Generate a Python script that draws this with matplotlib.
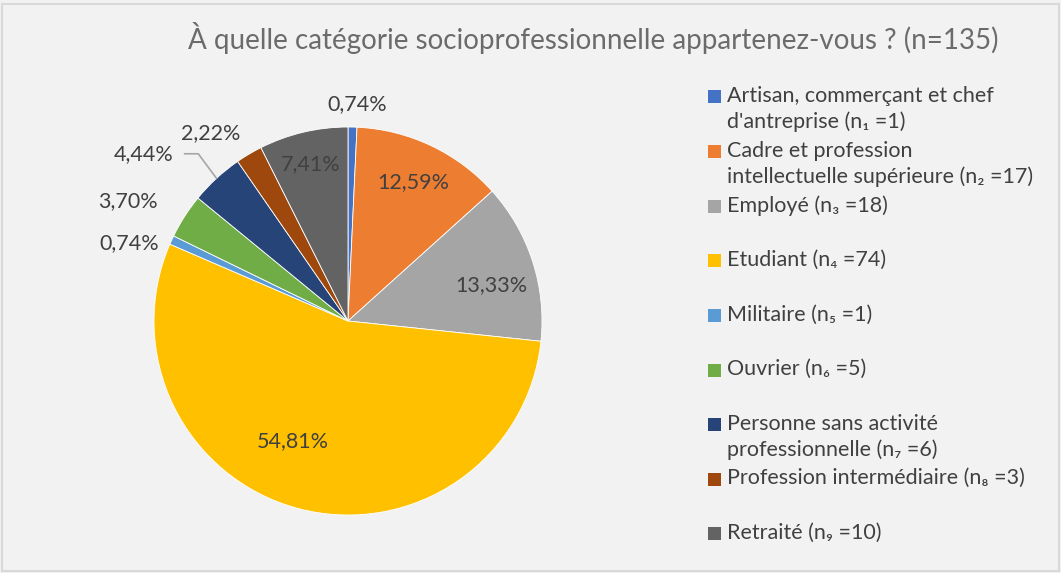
import numpy as np
import matplotlib.pyplot as plt
from matplotlib.patches import Rectangle

# data
categories = ["Artisan, commerçant et chef\nd'antreprise (n\u2081 =1)",
              "Cadre et profession\nintellectuelle supérieure (n\u2082 =17)",
              "Employé (n\u2083 =18)",
              "Etudiant (n\u2084 =74)",
              "Militaire (n\u2085 =1)",
              "Ouvrier (n\u2086 =5)",
              "Personne sans activité\nprofessionnelle (n\u2087 =6)",
              "Profession intermédiaire (n\u2088 =3)",
              "Retraité (n\u2089 =10)"]
counts = [1, 17, 18, 74, 1, 5, 6, 3, 10]
total = 135
title = "À quelle catégorie socioprofessionnelle appartenez-vous ? (n=135)"

colors = ['#4472C4', '#ED7D31', '#A5A5A5', '#FFC000', '#5B9BD5',
          '#70AD47', '#264478', '#9E480E', '#636363']

# label placement (radius factor, angle tweak in degrees)
label_r = [1.12, 0.79, 0.76, 0.68, 1.20, 1.29, 1.36, 1.20, 0.83]
label_dang = [-1, 0, -4, -10, 5, 4, 8, 5.5, 0]

W, H = 1061, 573
fig = plt.figure(figsize=(W / 100, H / 100), dpi=100)
fig.patch.set_facecolor('#F2F2F2')
fig.patches.append(Rectangle((2 / W, 2 / H), 1 - 4 / W, 1 - 6 / H, transform=fig.transFigure,
                             fill=False, edgecolor='#D9D9D9', lw=1.5))

font = 'Lato'
txtcol = '#404040'

# pie axes: center (348, 321) px, radius 194 px
cx, cy, R = 348, H - 321, 194
ax = fig.add_axes([(cx - R) / W, (cy - R) / H, 2 * R / W, 2 * R / H])

wedges, _ = ax.pie(counts, colors=colors, startangle=90, counterclock=False,
                   radius=1, wedgeprops=dict(edgecolor='white', linewidth=0.6))
ax.set_xlim(-1, 1)
ax.set_ylim(-1, 1)
ax.set_aspect('equal')
ax.axis('off')

vals = np.array(counts, dtype=float)
cum = np.cumsum(vals) - vals / 2
for i, v in enumerate(counts):
    mid = 90 - cum[i] / total * 360
    ang = np.deg2rad(mid + label_dang[i])
    x, y = label_r[i] * np.cos(ang), label_r[i] * np.sin(ang)
    pct = f"{v / total * 100:.2f}%".replace('.', ',')
    ax.text(x, y, pct, ha='center', va='center', fontsize=15.5, color=txtcol,
            family=font, clip_on=False)
    if i == 6:
        m = np.deg2rad(mid)
        ex, ey = np.cos(m), np.sin(m)
        ax.plot([x + 0.21, x + 0.28, ex], [y, y, ey], color='#A6A6A6', lw=1.2,
                clip_on=False)

fig.text(593 / W, 1 - 38 / H, title, ha='center', va='center', fontsize=20,
         color='#6b6b6b', family=font)

# legend
top = 97
step = 54.6
for i, lab in enumerate(categories):
    yc = top + i * step
    fig.patches.append(Rectangle((708 / W, 1 - (yc + 6.5) / H), 13 / W, 13 / H,
                                 transform=fig.transFigure, facecolor=colors[i],
                                 edgecolor='none'))
    fig.text(727 / W, 1 - (yc - 11) / H, lab, ha='left', va='top', fontsize=15.5,
             color=txtcol, family=font, linespacing=1.35)

fig.savefig('out.png', dpi=100, facecolor=fig.get_facecolor())
